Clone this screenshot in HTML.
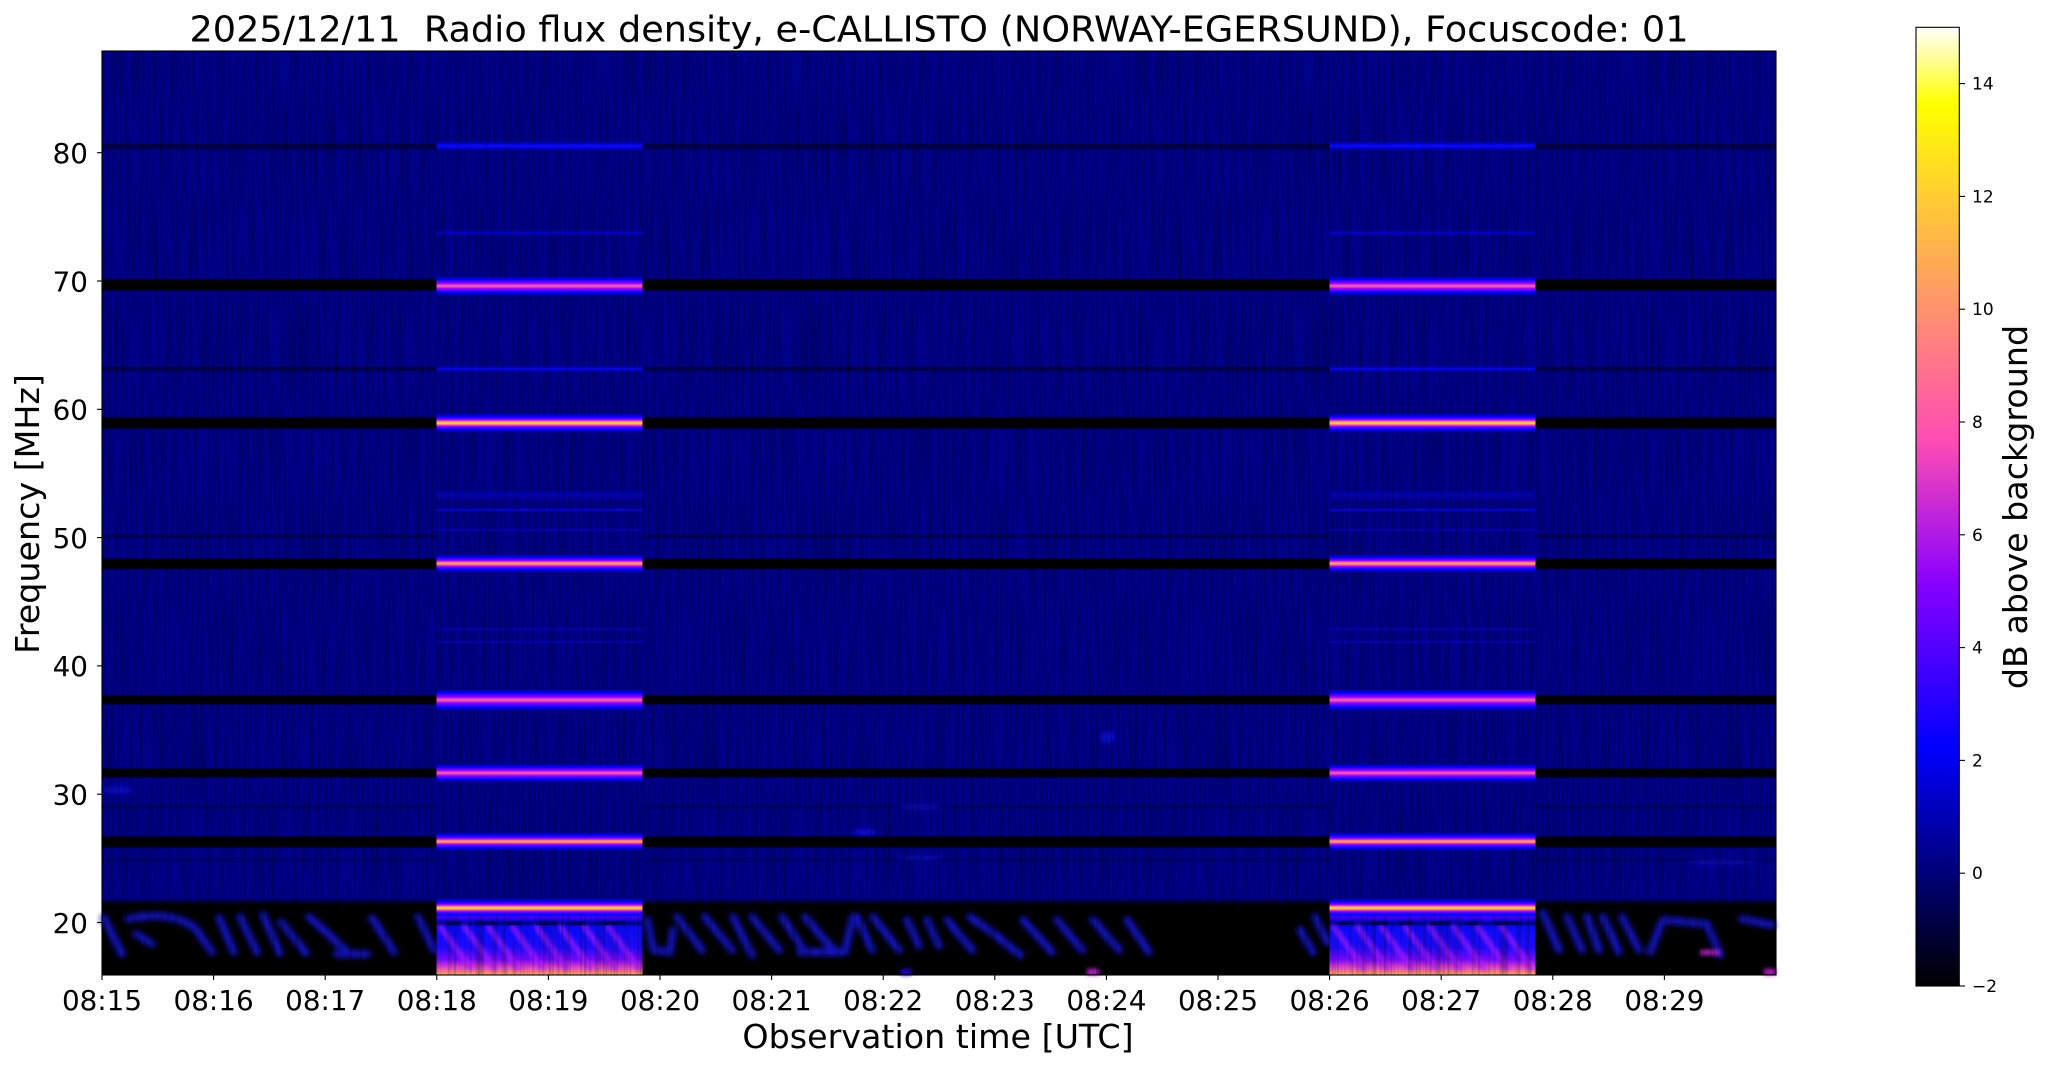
<!DOCTYPE html>
<html>
<head>
<meta charset="utf-8">
<style>
html,body{margin:0;padding:0;background:#fff;overflow:hidden;}
svg{display:block;}
</style>
</head>
<body>
<svg xmlns="http://www.w3.org/2000/svg" width="2047" height="1067" viewBox="0 0 2047 1067" font-family="'DejaVu Sans','Liberation Sans',sans-serif">
<defs>
  <linearGradient id="cmap" x1="0" y1="1" x2="0" y2="0">
    <stop offset="0" stop-color="rgb(0,0,0)"/>
    <stop offset="0.25" stop-color="rgb(0,0,255)"/>
    <stop offset="0.42" stop-color="rgb(136,0,255)"/>
    <stop offset="0.57" stop-color="rgb(255,77,179)"/>
    <stop offset="0.92" stop-color="rgb(255,255,0)"/>
    <stop offset="1" stop-color="rgb(255,255,255)"/>
  </linearGradient>
  <linearGradient id="gBlk" x1="0" y1="0" x2="0" y2="1">
    <stop offset="0" stop-color="#000" stop-opacity="0"/>
    <stop offset="0.22" stop-color="#000" stop-opacity="1"/>
    <stop offset="0.78" stop-color="#000" stop-opacity="1"/>
    <stop offset="1" stop-color="#000" stop-opacity="0"/>
  </linearGradient>
  <linearGradient id="gBot" x1="0" y1="0" x2="0" y2="1">
    <stop offset="0" stop-color="#000" stop-opacity="0"/>
    <stop offset="0.09" stop-color="#000" stop-opacity="1"/>
    <stop offset="1" stop-color="#000" stop-opacity="1"/>
  </linearGradient>
  <linearGradient id="gBlue" x1="0" y1="0" x2="0" y2="1">
    <stop offset="0" stop-color="rgb(0,0,255)" stop-opacity="0"/>
    <stop offset="0.5" stop-color="rgb(10,10,255)" stop-opacity="1"/>
    <stop offset="1" stop-color="rgb(0,0,255)" stop-opacity="0"/>
  </linearGradient>
  <linearGradient id="gPink" x1="0" y1="0" x2="0" y2="1">
    <stop offset="0" stop-color="rgb(0,0,255)" stop-opacity="0"/>
    <stop offset="0.18" stop-color="rgb(0,0,255)" stop-opacity="1"/>
    <stop offset="0.36" stop-color="rgb(150,0,255)"/>
    <stop offset="0.5" stop-color="rgb(255,100,175)"/>
    <stop offset="0.64" stop-color="rgb(150,0,255)"/>
    <stop offset="0.82" stop-color="rgb(0,0,255)" stop-opacity="1"/>
    <stop offset="1" stop-color="rgb(0,0,255)" stop-opacity="0"/>
  </linearGradient>
  <linearGradient id="gOrange" x1="0" y1="0" x2="0" y2="1">
    <stop offset="0" stop-color="rgb(0,0,255)" stop-opacity="0"/>
    <stop offset="0.18" stop-color="rgb(0,0,255)" stop-opacity="1"/>
    <stop offset="0.34" stop-color="rgb(140,0,255)"/>
    <stop offset="0.43" stop-color="rgb(255,90,165)"/>
    <stop offset="0.5" stop-color="rgb(255,185,80)"/>
    <stop offset="0.57" stop-color="rgb(255,90,165)"/>
    <stop offset="0.66" stop-color="rgb(140,0,255)"/>
    <stop offset="0.82" stop-color="rgb(0,0,255)" stop-opacity="1"/>
    <stop offset="1" stop-color="rgb(0,0,255)" stop-opacity="0"/>
  </linearGradient>
  <linearGradient id="gYellow" x1="0" y1="0" x2="0" y2="1">
    <stop offset="0" stop-color="rgb(0,0,255)" stop-opacity="0"/>
    <stop offset="0.18" stop-color="rgb(0,0,255)" stop-opacity="1"/>
    <stop offset="0.32" stop-color="rgb(130,0,255)"/>
    <stop offset="0.42" stop-color="rgb(255,110,150)"/>
    <stop offset="0.5" stop-color="rgb(255,235,40)"/>
    <stop offset="0.58" stop-color="rgb(255,110,150)"/>
    <stop offset="0.68" stop-color="rgb(130,0,255)"/>
    <stop offset="0.82" stop-color="rgb(0,0,255)" stop-opacity="1"/>
    <stop offset="1" stop-color="rgb(0,0,255)" stop-opacity="0"/>
  </linearGradient>
  <linearGradient id="gColBot" x1="0" y1="0" x2="0" y2="1">
    <stop offset="0" stop-color="rgb(150,0,255)"/>
    <stop offset="0.09" stop-color="rgb(30,0,245)"/>
    <stop offset="0.15" stop-color="rgb(0,0,140)"/>
    <stop offset="0.22" stop-color="rgb(10,10,255)"/>
    <stop offset="0.55" stop-color="rgb(30,10,255)"/>
    <stop offset="0.75" stop-color="rgb(120,10,255)"/>
    <stop offset="0.88" stop-color="rgb(230,70,200)"/>
    <stop offset="1" stop-color="rgb(255,170,85)"/>
  </linearGradient>
  <filter id="blur" x="-20%" y="-20%" width="140%" height="140%">
    <feGaussianBlur stdDeviation="2.6"/>
  </filter>
  <filter id="blurc" x="-20%" y="-20%" width="140%" height="140%">
    <feGaussianBlur stdDeviation="2"/>
  </filter>
  <filter id="blur2" x="-50%" y="-50%" width="200%" height="200%">
    <feGaussianBlur stdDeviation="3"/>
  </filter>
  <filter id="noise" filterUnits="userSpaceOnUse" x="102" y="51" width="1674" height="924" color-interpolation-filters="sRGB">
    <feTurbulence type="fractalNoise" baseFrequency="0.5 0.01" numOctaves="2" seed="7" result="t"/>
    <feColorMatrix in="t" type="matrix" values="0 0 0 0 0  0 0 0 0 0  0 0 0 0 0  0.75 0 0 0 -0.29"/>
  </filter>

  <g id="colA">
    <rect x="0" y="51" width="206" height="924" fill="rgb(0,0,138)"/>
    <rect x="0" y="914" width="206" height="61" fill="url(#gColBot)"/>
    <g stroke="rgb(170,30,255)" stroke-width="5" stroke-linecap="round" fill="none" opacity="0.8" filter="url(#blurc)">
      <path d="M4,927 L34,968"/>
      <path d="M28,927 L58,968"/>
      <path d="M52,927 L82,968"/>
      <path d="M76,927 L106,968"/>
      <path d="M100,927 L130,968"/>
      <path d="M124,927 L154,968"/>
      <path d="M148,927 L178,968"/>
      <path d="M172,927 L202,968"/>
    </g>
    <g fill="rgb(0,0,90)" opacity="0.8">
      <rect x="10" y="921" width="14" height="4"/>
      <rect x="40" y="921" width="18" height="4"/>
      <rect x="70" y="921" width="14" height="4"/>
      <rect x="100" y="921" width="20" height="4"/>
      <rect x="135" y="921" width="14" height="4"/>
      <rect x="165" y="921" width="24" height="4"/>
    </g>
  </g>

  <g id="colB">
    <rect x="0" y="141" width="206" height="10" fill="url(#gBlue)"/>
    <rect x="0" y="230" width="206" height="6" fill="url(#gBlue)" opacity="0.5"/>
    <rect x="0" y="276" width="206" height="20" fill="url(#gPink)"/>
    <rect x="0" y="365.5" width="206" height="7" fill="url(#gBlue)" opacity="0.75"/>
    <rect x="0" y="413" width="206" height="20" fill="url(#gYellow)"/>
    <rect x="0" y="489" width="206" height="12" fill="url(#gBlue)" opacity="0.35"/>
    <rect x="0" y="507.5" width="206" height="5" fill="url(#gBlue)" opacity="0.6"/>
    <rect x="0" y="528" width="206" height="4" fill="url(#gBlue)" opacity="0.35"/>
    <rect x="0" y="554" width="206" height="19" fill="url(#gOrange)"/>
    <rect x="0" y="627" width="206" height="4" fill="url(#gBlue)" opacity="0.35"/>
    <rect x="0" y="640" width="206" height="4" fill="url(#gBlue)" opacity="0.35"/>
    <rect x="0" y="689" width="206" height="22" fill="url(#gPink)"/>
    <rect x="0" y="763.5" width="206" height="19" fill="url(#gPink)"/>
    <rect x="0" y="832" width="206" height="19" fill="url(#gOrange)"/>
    <rect x="0" y="898" width="206" height="20" fill="url(#gYellow)"/>
  </g>
</defs>

<!-- image area -->
<rect x="102" y="51" width="1674" height="924" fill="rgb(0,0,138)"/>

<!-- dark bands -->
<rect x="102" y="143" width="1674" height="7" fill="url(#gBlk)" opacity="0.45"/>
<rect x="102" y="278" width="1674" height="14" fill="url(#gBlk)"/>
<rect x="102" y="366" width="1674" height="6" fill="url(#gBlk)" opacity="0.4"/>
<rect x="102" y="416" width="1674" height="14" fill="url(#gBlk)"/>
<rect x="102" y="534" width="1674" height="5" fill="url(#gBlk)" opacity="0.3"/>
<rect x="102" y="557.5" width="1674" height="13" fill="url(#gBlk)"/>
<rect x="102" y="694.5" width="1674" height="11" fill="url(#gBlk)"/>
<rect x="102" y="767.5" width="1674" height="11" fill="url(#gBlk)"/>
<rect x="102" y="805" width="1674" height="4" fill="url(#gBlk)" opacity="0.25"/>
<rect x="102" y="835" width="1674" height="14" fill="url(#gBlk)"/>
<rect x="102" y="858" width="1674" height="4" fill="url(#gBlk)" opacity="0.2"/>
<rect x="102" y="898" width="1674" height="77" fill="url(#gBot)"/>

<!-- faint brighter features -->
<g filter="url(#blur2)" fill="rgb(20,20,255)">
  <ellipse cx="118" cy="790" rx="16" ry="4" opacity="0.55"/>
  <ellipse cx="1107" cy="737" rx="8" ry="6" opacity="0.6"/>
  <ellipse cx="920" cy="807" rx="25" ry="3" opacity="0.45"/>
  <ellipse cx="920" cy="858" rx="25" ry="3" opacity="0.35"/>
  <ellipse cx="865" cy="832" rx="14" ry="3" opacity="0.7"/>
  <ellipse cx="1720" cy="862" rx="40" ry="3" opacity="0.35"/>
</g>

<!-- streaks in low band -->
<g stroke="rgb(20,20,225)" stroke-width="8" stroke-linecap="round" stroke-linejoin="round" fill="none" opacity="0.85" filter="url(#blur)">
  <path d="M104,918 L122,954"/>
  <path d="M128,919 Q170,910 195,928 L212,952"/>
  <path d="M136,934 L152,944"/>
  <path d="M219,918 L234,952"/>
  <path d="M240,917 L257,952"/>
  <path d="M263,915 L280,953"/>
  <path d="M281,922 L306,953"/>
  <path d="M309,917 L327,933 L347,952"/>
  <path d="M337,954 L367,954"/>
  <path d="M372,918 L394,952"/>
  <path d="M418,917 L434,950"/>
  <path d="M647,920 L653,950 L670,952 L673,930"/>
  <path d="M677,917 L702,950"/>
  <path d="M705,917 L732,950"/>
  <path d="M733,917 L752,955"/>
  <path d="M752,917 L779,950"/>
  <path d="M782,917 L805,952"/>
  <path d="M805,917 L835,952"/>
  <path d="M800,952 L845,952 L853,917"/>
  <path d="M857,917 L872,950"/>
  <path d="M873,917 L899,950"/>
  <path d="M907,920 L919,946"/>
  <path d="M927,920 L939,946"/>
  <path d="M947,920 L972,950"/>
  <path d="M970,917 L993,933 L1020,955"/>
  <path d="M1023,920 L1052,952"/>
  <path d="M1057,920 L1082,950"/>
  <path d="M1093,920 L1119,950"/>
  <path d="M1127,920 L1149,952"/>
  <path d="M1300,930 L1313,952"/>
  <path d="M1315,917 L1327,942"/>
  <path d="M1543,913 L1559,950"/>
  <path d="M1567,917 L1582,950"/>
  <path d="M1587,917 L1599,950"/>
  <path d="M1603,917 L1619,952"/>
  <path d="M1622,917 L1639,950"/>
  <path d="M1650,952 L1663,920 L1707,924 L1720,955"/>
  <path d="M1742,919 L1772,925"/>
</g>
<g filter="url(#blurc)">
  <rect x="901" y="969" width="10" height="6" fill="rgb(40,0,255)"/>
  <rect x="1087" y="969" width="12" height="6" fill="rgb(200,40,220)"/>
  <rect x="1700" y="950" width="20" height="5" fill="rgb(200,40,220)"/>
  <rect x="1764" y="969" width="12" height="6" fill="rgb(200,40,220)"/>
</g>

<!-- column backgrounds -->
<use href="#colA" x="436.5"/>
<use href="#colA" x="1329.5"/>

<!-- noise texture -->
<rect x="102" y="51" width="1674" height="924" filter="url(#noise)"/>

<!-- column bright lines -->
<use href="#colB" x="436.5"/>
<use href="#colB" x="1329.5"/>

<!-- axes frame -->
<rect x="102" y="51" width="1674" height="924" fill="none" stroke="#000" stroke-width="1.1"/>

<!-- y ticks -->
<g stroke="#000" stroke-width="1.1">
  <line x1="97" y1="152.7" x2="102" y2="152.7"/>
  <line x1="97" y1="281" x2="102" y2="281"/>
  <line x1="97" y1="409.3" x2="102" y2="409.3"/>
  <line x1="97" y1="537.6" x2="102" y2="537.6"/>
  <line x1="97" y1="665.9" x2="102" y2="665.9"/>
  <line x1="97" y1="794.2" x2="102" y2="794.2"/>
  <line x1="97" y1="922.5" x2="102" y2="922.5"/>
</g>
<g font-size="27.8" text-anchor="end" fill="#000">
  <text x="88" y="163">80</text>
  <text x="88" y="291.3">70</text>
  <text x="88" y="419.6">60</text>
  <text x="88" y="547.9">50</text>
  <text x="88" y="676.2">40</text>
  <text x="88" y="804.5">30</text>
  <text x="88" y="932.8">20</text>
</g>

<!-- x ticks -->
<g stroke="#000" stroke-width="1.1">
  <line x1="102" y1="975" x2="102" y2="980"/>
  <line x1="213.6" y1="975" x2="213.6" y2="980"/>
  <line x1="325.2" y1="975" x2="325.2" y2="980"/>
  <line x1="436.8" y1="975" x2="436.8" y2="980"/>
  <line x1="548.4" y1="975" x2="548.4" y2="980"/>
  <line x1="660" y1="975" x2="660" y2="980"/>
  <line x1="771.6" y1="975" x2="771.6" y2="980"/>
  <line x1="883.2" y1="975" x2="883.2" y2="980"/>
  <line x1="994.8" y1="975" x2="994.8" y2="980"/>
  <line x1="1106.4" y1="975" x2="1106.4" y2="980"/>
  <line x1="1218" y1="975" x2="1218" y2="980"/>
  <line x1="1329.6" y1="975" x2="1329.6" y2="980"/>
  <line x1="1441.2" y1="975" x2="1441.2" y2="980"/>
  <line x1="1552.8" y1="975" x2="1552.8" y2="980"/>
  <line x1="1664.4" y1="975" x2="1664.4" y2="980"/>
</g>
<g font-size="27.8" text-anchor="middle" fill="#000">
  <text x="102" y="1010">08:15</text>
  <text x="213.6" y="1010">08:16</text>
  <text x="325.2" y="1010">08:17</text>
  <text x="436.8" y="1010">08:18</text>
  <text x="548.4" y="1010">08:19</text>
  <text x="660" y="1010">08:20</text>
  <text x="771.6" y="1010">08:21</text>
  <text x="883.2" y="1010">08:22</text>
  <text x="994.8" y="1010">08:23</text>
  <text x="1106.4" y="1010">08:24</text>
  <text x="1218" y="1010">08:25</text>
  <text x="1329.6" y="1010">08:26</text>
  <text x="1441.2" y="1010">08:27</text>
  <text x="1552.8" y="1010">08:28</text>
  <text x="1664.4" y="1010">08:29</text>
</g>

<!-- labels -->
<text x="939" y="41.5" font-size="36" text-anchor="middle" textLength="1499" lengthAdjust="spacingAndGlyphs" fill="#000">2025/12/11&#160; Radio flux density, e-CALLISTO (NORWAY-EGERSUND), Focuscode: 01</text>
<text x="938" y="1048" font-size="33.3" text-anchor="middle" fill="#000">Observation time [UTC]</text>
<text transform="translate(39,514) rotate(-90)" x="0" y="0" font-size="33.3" text-anchor="middle" fill="#000">Frequency [MHz]</text>

<!-- colorbar -->
<rect x="1916" y="27.3" width="43.3" height="958.7" fill="url(#cmap)" stroke="#000" stroke-width="1.1"/>
<g stroke="#000" stroke-width="1.1">
  <line x1="1959.3" y1="986" x2="1965" y2="986"/>
  <line x1="1959.3" y1="873.2" x2="1965" y2="873.2"/>
  <line x1="1959.3" y1="760.4" x2="1965" y2="760.4"/>
  <line x1="1959.3" y1="647.6" x2="1965" y2="647.6"/>
  <line x1="1959.3" y1="534.8" x2="1965" y2="534.8"/>
  <line x1="1959.3" y1="422" x2="1965" y2="422"/>
  <line x1="1959.3" y1="309.2" x2="1965" y2="309.2"/>
  <line x1="1959.3" y1="196.4" x2="1965" y2="196.4"/>
  <line x1="1959.3" y1="83.6" x2="1965" y2="83.6"/>
</g>
<g font-size="17" fill="#000">
  <text x="1972" y="992">−2</text>
  <text x="1972" y="879.2">0</text>
  <text x="1972" y="766.4">2</text>
  <text x="1972" y="653.6">4</text>
  <text x="1972" y="540.8">6</text>
  <text x="1972" y="428">8</text>
  <text x="1972" y="315.2">10</text>
  <text x="1972" y="202.4">12</text>
  <text x="1972" y="89.6">14</text>
</g>
<text transform="translate(2027,507) rotate(-90)" x="0" y="0" font-size="33.3" text-anchor="middle" fill="#000">dB above background</text>
</svg>
</body>
</html>
